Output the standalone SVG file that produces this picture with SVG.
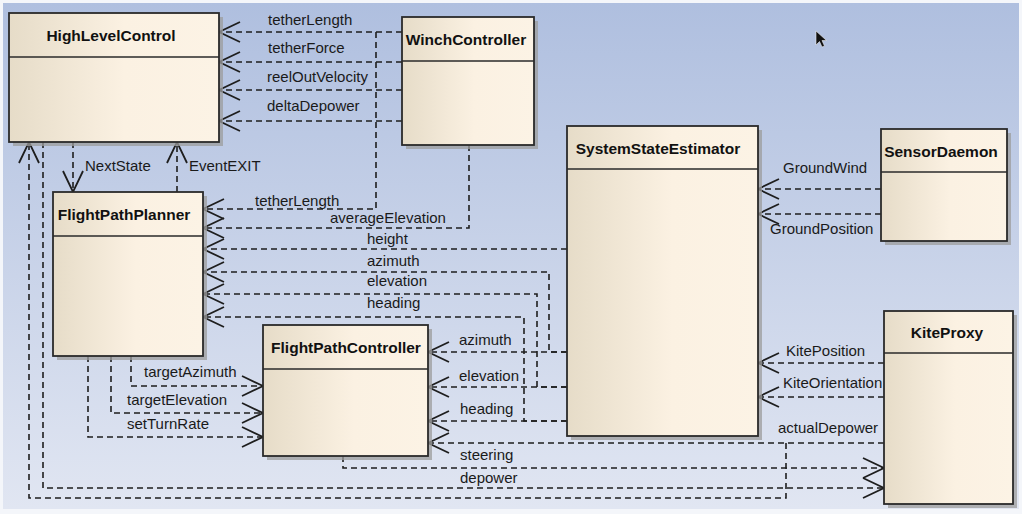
<svg xmlns="http://www.w3.org/2000/svg" width="1022" height="514" viewBox="0 0 1022 514">
<defs>
<linearGradient id="bg" x1="0" y1="0" x2="0" y2="1">
<stop offset="0" stop-color="#afbfdf"/>
<stop offset="1" stop-color="#e1e6f2"/>
</linearGradient>
<linearGradient id="nf" x1="0" y1="0" x2="1" y2="0">
<stop offset="0" stop-color="#e6dcc8"/>
<stop offset="0.55" stop-color="#fbf1e2"/>
<stop offset="1" stop-color="#fcf3e5"/>
</linearGradient>
<marker id="arr" markerUnits="userSpaceOnUse" markerWidth="26" markerHeight="24" refX="22" refY="11" orient="auto" overflow="visible">
<path d="M1,1 L22,11 L1,21" fill="none" stroke="#1e1e1e" stroke-width="1.8" stroke-dasharray="none"/>
</marker>
<style>
.box{fill:url(#nf);stroke:#2a2a2a;stroke-width:1.8}
.sh{fill:#9c9c9c;opacity:0.75}
.sep{stroke:#2a2a2a;stroke-width:1.5}
.title{font-family:"Liberation Sans",Arial,sans-serif;font-size:15.5px;font-weight:bold;fill:#111;text-anchor:middle}
.lbl{font-family:"Liberation Sans",Arial,sans-serif;font-size:15px;fill:#1a1a1a}
.c{fill:none;stroke:#1e1e1e;stroke-width:1.6;stroke-dasharray:6 4}
.a{marker-end:url(#arr)}
</style>
</defs>
<rect x="0" y="0" width="1022" height="514" fill="#f4f6fa"/>
<rect x="3" y="3" width="1016" height="506" fill="url(#bg)"/>

<g id="connectors">
<path class="c a" d="M402,32 H219"/>
<path class="c a" d="M402,62 H219"/>
<path class="c a" d="M402,90 H219"/>
<path class="c a" d="M402,121 H219"/>
<path class="c a" d="M376,32 V209 H203"/>
<path class="c a" d="M469,145 V228 H203"/>
<path class="c a" d="M567,249 H203"/>
<path class="c a" d="M567,352 H549 V272 H203"/>
<path class="c a" d="M567,387 H537 V294 H203"/>
<path class="c a" d="M567,421 H524 V317 H203"/>
<path class="c a" d="M567,352 H428"/>
<path class="c a" d="M567,387 H428"/>
<path class="c a" d="M567,421 H428"/>
<path class="c a" d="M884,443 H428"/>
<path class="c a" d="M786,443 V498 H29 V142"/>
<path class="c a" d="M43,142 V488 H884"/>
<path class="c a" d="M343,456 V468 H884"/>
<path class="c a" d="M73,142 V192"/>
<path class="c a" d="M177,192 V142"/>
<path class="c a" d="M131,356 V386 H263"/>
<path class="c a" d="M111,356 V413 H263"/>
<path class="c a" d="M88,356 V437 H263"/>
<path class="c a" d="M881,189 H758"/>
<path class="c a" d="M881,214 H758"/>
<path class="c a" d="M884,363 H758"/>
<path class="c a" d="M884,397 H758"/>
<text class="lbl" x="268" y="25">tetherLength</text>
<text class="lbl" x="268" y="53">tetherForce</text>
<text class="lbl" x="267" y="82">reelOutVelocity</text>
<text class="lbl" x="267" y="111">deltaDepower</text>
<text class="lbl" x="85" y="171">NextState</text>
<text class="lbl" x="189" y="171">EventEXIT</text>
<text class="lbl" x="255" y="206">tetherLength</text>
<text class="lbl" x="330" y="223">averageElevation</text>
<text class="lbl" x="367" y="244">height</text>
<text class="lbl" x="367" y="266">azimuth</text>
<text class="lbl" x="367" y="286">elevation</text>
<text class="lbl" x="367" y="308">heading</text>
<text class="lbl" x="459" y="345">azimuth</text>
<text class="lbl" x="459" y="381">elevation</text>
<text class="lbl" x="460" y="414">heading</text>
<text class="lbl" x="460" y="460">steering</text>
<text class="lbl" x="460" y="483">depower</text>
<text class="lbl" x="144" y="377">targetAzimuth</text>
<text class="lbl" x="127" y="405">targetElevation</text>
<text class="lbl" x="127" y="429">setTurnRate</text>
<text class="lbl" x="783" y="173">GroundWind</text>
<text class="lbl" x="770" y="234">GroundPosition</text>
<text class="lbl" x="786" y="356">KitePosition</text>
<text class="lbl" x="783" y="388">KiteOrientation</text>
<text class="lbl" x="778" y="433">actualDepower</text>
</g>

<g id="HighLevelControl">
<rect class="sh" x="13" y="17" width="210" height="129"/>
<rect class="box" x="9" y="13" width="210" height="129"/>
<line class="sep" x1="9" y1="57" x2="219" y2="57"/>
<text class="title" x="111" y="41">HighLevelControl</text>
</g>

<g id="WinchController">
<rect class="sh" x="406" y="21" width="132" height="128"/>
<rect class="box" x="402" y="17" width="132" height="128"/>
<line class="sep" x1="402" y1="61" x2="534" y2="61"/>
<text class="title" x="466" y="45">WinchController</text>
</g>

<g id="FlightPathPlanner">
<rect class="sh" x="57" y="196" width="150" height="164"/>
<rect class="box" x="53" y="192" width="150" height="164"/>
<line class="sep" x1="53" y1="236" x2="203" y2="236"/>
<text class="title" x="124" y="220">FlightPathPlanner</text>
</g>

<g id="FlightPathController">
<rect class="sh" x="267" y="329" width="165" height="131"/>
<rect class="box" x="263" y="325" width="165" height="131"/>
<line class="sep" x1="263" y1="369" x2="428" y2="369"/>
<text class="title" x="346" y="353">FlightPathController</text>
</g>

<g id="SystemStateEstimator">
<rect class="sh" x="571" y="130" width="191" height="310"/>
<rect class="box" x="567" y="126" width="191" height="310"/>
<line class="sep" x1="567" y1="169" x2="758" y2="169"/>
<text class="title" x="658" y="154">SystemStateEstimator</text>
</g>

<g id="SensorDaemon">
<rect class="sh" x="885" y="133" width="126" height="112"/>
<rect class="box" x="881" y="129" width="126" height="112"/>
<line class="sep" x1="881" y1="172" x2="1007" y2="172"/>
<text class="title" x="941" y="157">SensorDaemon</text>
</g>

<g id="KiteProxy">
<rect class="sh" x="888" y="315" width="129" height="193"/>
<rect class="box" x="884" y="311" width="129" height="193"/>
<line class="sep" x1="884" y1="353" x2="1013" y2="353"/>
<text class="title" x="947" y="338">KiteProxy</text>
</g>

<path d="M816,31 L816,45 L819.5,41.5 L822,47 L824.5,46 L822,40.5 L826.5,40.5 Z" fill="#111" stroke="#eee" stroke-width="0.6"/>
</svg>
